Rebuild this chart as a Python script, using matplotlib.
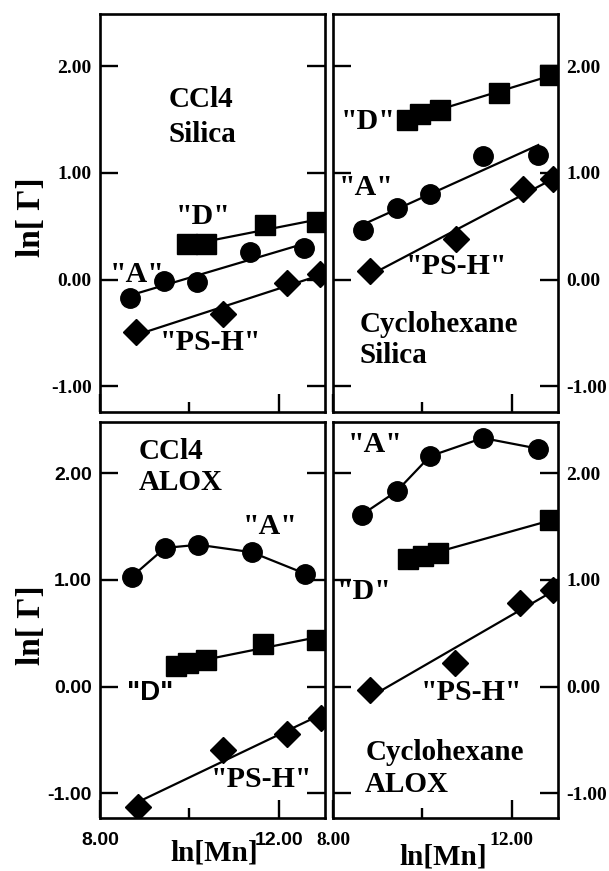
import numpy as np
import matplotlib.pyplot as plt
from matplotlib.ticker import FixedLocator

plt.rcParams['font.family'] = ['Liberation Serif', 'DejaVu Serif']
plt.rcParams['font.weight'] = 'bold'

# CCl4 / Silica (top left)
tl_a_x = [8.67, 9.42, 10.16, 11.35, 12.56]
tl_a_y = [-0.17, -0.01, -0.02, 0.26, 0.30]
tl_d_x = [9.94, 10.38, 11.69, 12.84]
tl_d_y = [0.33, 0.33, 0.51, 0.54]
tl_p_x = [8.80, 10.74, 12.19, 12.92]
tl_p_y = [-0.49, -0.32, -0.03, 0.05]

# Cyclohexane / Silica (top right)
tr_a_x = [8.68, 9.42, 10.17, 11.36, 12.59]
tr_a_y = [0.47, 0.67, 0.80, 1.16, 1.17]
tr_d_x = [9.65, 9.94, 10.39, 11.72, 12.85]
tr_d_y = [1.50, 1.55, 1.59, 1.75, 1.92]
tr_p_x = [8.83, 10.75, 12.24, 12.92]
tr_p_y = [0.08, 0.38, 0.85, 0.94]

# CCl4 / ALOX (bottom left)
bl_a_x = [8.71, 9.45, 10.20, 11.39, 12.58]
bl_a_y = [1.03, 1.30, 1.33, 1.26, 1.06]
bl_d_x = [9.71, 9.97, 10.38, 11.65, 12.84]
bl_d_y = [0.19, 0.22, 0.25, 0.40, 0.44]
bl_p_x = [8.86, 10.76, 12.19, 12.93]
bl_p_y = [-1.13, -0.59, -0.44, -0.29]

# Cyclohexane / ALOX (bottom right)
br_a_x = [8.64, 9.42, 10.17, 11.35, 12.59]
br_a_y = [1.61, 1.83, 2.16, 2.33, 2.23]
br_d_x = [9.68, 10.02, 10.35, 12.85]
br_d_y = [1.20, 1.22, 1.25, 1.56]
br_p_x = [8.83, 10.73, 12.18, 12.92]
br_p_y = [-0.03, 0.22, 0.78, 0.91]

y_ticks = [-1, 0, 1, 2]
y_tick_labels = ['-1.00', '0.00', '1.00', '2.00']
x_ticks = [8, 12]
x_tick_labels = ['8.00', '12.00']
x_minor = [10]

fig = plt.figure(figsize=(6.09, 8.71), dpi=100)
W = 225 / 609
ax_tl = fig.add_axes([100 / 609, 1 - 412 / 871, W, 398 / 871])
ax_tr = fig.add_axes([333 / 609, 1 - 412 / 871, W, 398 / 871])
ax_bl = fig.add_axes([100 / 609, 1 - 818 / 871, W, 396 / 871])
ax_br = fig.add_axes([333 / 609, 1 - 818 / 871, W, 396 / 871])


def series(ax, x, y, marker, ms, fit=True):
    if fit:
        k, b = np.polyfit(x, y, 1)
        xx = np.array([min(x), max(x)])
        ax.plot(xx, k * xx + b, color='black', lw=1.6, zorder=2)
    else:
        ax.plot(x, y, color='black', lw=1.6, zorder=2)
    ax.plot(x, y, linestyle='none', marker=marker, ms=ms, color='black', zorder=3)


def setup(ax, side, bottom, sans=False):
    ax.set_xlim(8, 13.03)
    ax.set_ylim(-1.24, 2.49)
    for s in ax.spines.values():
        s.set_linewidth(1.9)
    ax.tick_params(direction='in', length=13, width=1.7,
                   left=True, right=True, top=False, bottom=True,
                   labelleft=(side == 'left'), labelright=(side == 'right'),
                   labelbottom=bottom, labelsize=14, pad=6)
    ax.tick_params(axis='x', which='minor', direction='in', length=7,
                   width=1.7, bottom=True, top=False)
    ax.set_yticks(y_ticks)
    ax.set_xticks(x_ticks)
    ax.xaxis.set_minor_locator(FixedLocator(x_minor))
    fam = ['Liberation Sans'] if sans else ['Liberation Serif']
    ax.set_yticklabels(y_tick_labels, family=fam, weight='bold')
    ax.set_xticklabels(x_tick_labels, family=fam, weight='bold')
    if bottom:
        ax.tick_params(axis='x', which='major', pad=10)


lab = dict(fontsize=21.5, fontweight='bold', ha='center', va='center')
big = dict(fontsize=21, fontweight='bold', ha='left', va='center')

# top left
series(ax_tl, tl_a_x, tl_a_y, 'o', 14)
series(ax_tl, tl_d_x, tl_d_y, 's', 14)
series(ax_tl, tl_p_x, tl_p_y, 'D', 13)
setup(ax_tl, 'left', False)
ax_tl.text(9.53, 1.69, 'CCl4', **big)
ax_tl.text(9.53, 1.36, 'Silica', **big)
ax_tl.text(8.83, 0.05, '"A"', **lab)
ax_tl.text(10.3, 0.59, '"D"', **lab)
ax_tl.text(10.47, -0.59, '"PS-H"', **lab)

# top right
series(ax_tr, tr_a_x, tr_a_y, 'o', 14)
series(ax_tr, tr_d_x, tr_d_y, 's', 14)
series(ax_tr, tr_p_x, tr_p_y, 'D', 13)
setup(ax_tr, 'right', False)
ax_tr.text(8.79, 1.48, '"D"', **lab)
ax_tr.text(8.75, 0.86, '"A"', **lab)
ax_tr.text(10.76, 0.125, '"PS-H"', **lab)
ax_tr.text(8.6, -0.42, 'Cyclohexane', **big)
ax_tr.text(8.6, -0.71, 'Silica', **big)

# bottom left
series(ax_bl, bl_a_x, bl_a_y, 'o', 14, fit=False)
series(ax_bl, bl_d_x, bl_d_y, 's', 14)
series(ax_bl, bl_p_x, bl_p_y, 'D', 13)
setup(ax_bl, 'left', True, sans=True)
ax_bl.set_ylim(-1.23, 2.48)
ax_bl.text(8.86, 2.20, 'CCl4', **big)
ax_bl.text(8.86, 1.91, 'ALOX', **big)
ax_bl.text(11.80, 1.50, '"A"', **lab)
ax_bl.text(9.12, -0.06, '"D"', fontsize=20, fontweight='bold', ha='center',
           va='center', family=['Liberation Sans'])
ax_bl.text(11.61, -0.87, '"PS-H"', **lab)

# bottom right
series(ax_br, br_a_x, br_a_y, 'o', 14, fit=False)
series(ax_br, br_d_x, br_d_y, 's', 14)
series(ax_br, br_p_x, br_p_y, 'D', 13)
setup(ax_br, 'right', True)
ax_br.set_ylim(-1.23, 2.48)
ax_br.text(8.94, 2.27, '"A"', **lab)
ax_br.text(8.69, 0.89, '"D"', **lab)
ax_br.text(11.10, -0.05, '"PS-H"', **lab)
ax_br.text(8.72, -0.62, 'Cyclohexane', **big)
ax_br.text(8.72, -0.92, 'ALOX', **big)

# axis titles
fig.text(32 / 609, 1 - 217 / 871, 'ln[ Γ]', rotation=90, fontsize=24,
         fontweight='bold', ha='center', va='center')
fig.text(32 / 609, 1 - 625 / 871, 'ln[ Γ]', rotation=90, fontsize=24,
         fontweight='bold', ha='center', va='center')
fig.text(214 / 609, 1 - 853 / 871, 'ln[Mn]', fontsize=21,
         fontweight='bold', ha='center', va='center')
fig.text(443 / 609, 1 - 857 / 871, 'ln[Mn]', fontsize=21,
         fontweight='bold', ha='center', va='center')

fig.savefig('out.png', dpi=100)
